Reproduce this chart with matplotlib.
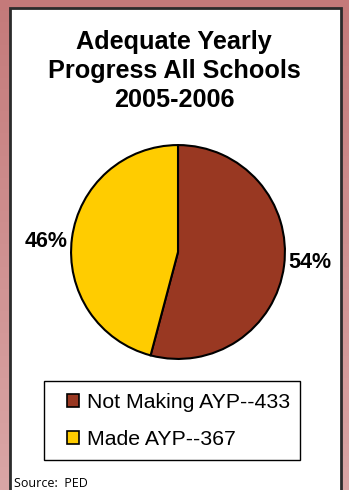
import numpy as np
import matplotlib.pyplot as plt
from matplotlib.patches import Rectangle

# school counts for 2005-2006
labels = ["Not Making AYP--433", "Made AYP--367"]
counts = [433, 367]
colors = ["#993822", "#ffcc00"]

title = "Adequate Yearly\nProgress All Schools\n2005-2006"
source = "Source:  PED"

W, H = 349, 490
fig = plt.figure(figsize=(W / 100, H / 100), dpi=100)

# pink backdrop, a little lighter towards the bottom
bg = fig.add_axes([0, 0, 1, 1])
bg.axis("off")
top = np.array([0xc4, 0x7a, 0x7a]) / 255
bot = np.array([0xda, 0xa6, 0xa6]) / 255
t = np.linspace(0, 1, 256)[:, None]
grad = top[None, :] * (1 - t) + bot[None, :] * t
bg.imshow(grad[:, None, :], aspect="auto", extent=[0, 1, 0, 1])
bg.set_xlim(0, 1)
bg.set_ylim(0, 1)

# white panel with dark border (open at the bottom)
bg.add_patch(Rectangle((10 / W, -0.01), 331 / W, 1.01 - 8 / H,
                       facecolor="white", edgecolor="#2b2b2b", linewidth=2))

fig.text(174 / W, 1 - 71 / H, title, ha="center", va="center",
         fontsize=18.2, fontweight="bold", family="Liberation Sans",
         linespacing=1.27)

# pie
ax = fig.add_axes([70 / W, (H - 252 - 108) / H, 216 / W, 216 / H])
wedges, _, pcts = ax.pie(counts, colors=colors, startangle=90, counterclock=False,
                         autopct="%1.0f%%", pctdistance=1.24,
                         wedgeprops=dict(edgecolor="black", linewidth=1.5))
# pull the percentage labels closer to the horizontal
for p in pcts:
    p.set_fontsize(15.5)
    p.set_fontweight("bold")
    p.set_family("Liberation Sans")
    x, y = p.get_position()
    p.set_position((x, y * 0.62))
ax.set_xlim(-1.01, 1.01)
ax.set_ylim(-1.01, 1.01)
ax.set_aspect("equal")

# legend box
bg.add_patch(Rectangle((44 / W, 1 - 460 / H), 256 / W, 79 / H,
                       facecolor="white", edgecolor="black", linewidth=1))
leg = fig.legend(wedges, labels, loc="center left",
                 bbox_to_anchor=(56 / W, 1 - 421 / H), frameon=False,
                 prop=dict(family="Liberation Sans", size=15.3),
                 handlelength=0.6, handleheight=0.6, handletextpad=0.35,
                 labelspacing=0.85, borderpad=0)
for h in leg.legend_handles:
    h.set_linewidth(1.2)

fig.text(14 / W, 1 - 483 / H, source, ha="left", va="center",
         fontsize=9, family="Open Sans")

fig.savefig("out.png", dpi=100)
